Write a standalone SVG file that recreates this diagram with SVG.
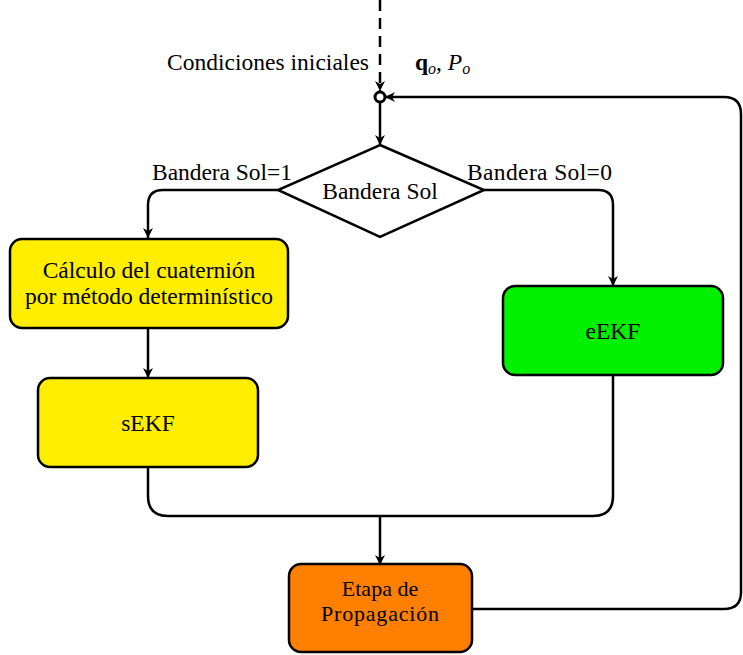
<svg xmlns="http://www.w3.org/2000/svg" width="743" height="655" viewBox="0 0 743 655">
<defs>
<marker id="arr" viewBox="0 0 10 10" refX="10" refY="5" markerWidth="10" markerHeight="10" markerUnits="userSpaceOnUse" orient="auto">
<path d="M0,0 L10,5 L0,10 L3,5 Z" fill="#000"/>
</marker>
</defs>
<style>
.box{stroke:#000;stroke-width:2.5}
.ln{fill:none;stroke:#000;stroke-width:2.5}
text{font-family:"Liberation Serif","Times New Roman",serif;font-size:23.5px;fill:#000}
.c{text-anchor:middle}
.s{font-size:22px}
</style>
<rect width="743" height="655" fill="#fff"/>
<g id="connectors">
<path class="ln" d="M380,0 V91" stroke-dasharray="11,7" marker-end="url(#arr)"/>
<circle cx="380" cy="97" r="5" fill="none" stroke="#000" stroke-width="3"/>
<path class="ln" d="M380,102 V145" marker-end="url(#arr)"/>
<path class="ln" d="M278,190 H163 Q148,190 148,205 V238" marker-end="url(#arr)"/>
<path class="ln" d="M484,190 H598 Q613,190 613,205 V286" marker-end="url(#arr)"/>
<path class="ln" d="M148,328 V378" marker-end="url(#arr)"/>
<path class="ln" d="M148,468 V496 Q148,516 168,516 H593 Q613,516 613,496 V376"/>
<path class="ln" d="M380,516 V565" marker-end="url(#arr)"/>
<path class="ln" d="M472,609 H724 Q741,609 741,592 V114 Q741,97 724,97 H385" marker-end="url(#arr)"/>
</g>
<g id="cond">
<text x="369" y="70" text-anchor="end" textLength="202">Condiciones iniciales</text>
<text x="415" y="70"><tspan font-weight="bold">q</tspan><tspan font-style="italic" font-size="16" dy="4">o</tspan><tspan dy="-4">, </tspan><tspan font-style="italic">P</tspan><tspan font-style="italic" font-size="16" dy="4">o</tspan></text>
</g>
<g id="diamond">
<polygon class="box" points="380,145 484,190 380,237 278,190" fill="#fff"/>
<text class="c" x="380" y="199">Bandera Sol</text>
<text x="152" y="180" textLength="140">Bandera Sol=1</text>
<text x="467" y="180" textLength="145">Bandera Sol=0</text>
</g>
<g id="calculo">
<rect class="box" x="10" y="239" width="278" height="89" rx="12" fill="#ffee00"/>
<text class="c" x="149" y="278">Cálculo del cuaternión</text>
<text class="c" x="149" y="304">por método determinístico</text>
</g>
<g id="sekf">
<rect class="box" x="38" y="378" width="220" height="89" rx="12" fill="#ffee00"/>
<text class="c" x="148" y="431">sEKF</text>
</g>
<g id="eekf">
<rect class="box" x="503" y="286" width="220" height="89" rx="12" fill="#00f000"/>
<text class="c" x="613" y="339">eEKF</text>
</g>
<g id="etapa">
<rect class="box" x="289" y="564" width="183" height="88" rx="12" fill="#ff8000"/>
<text class="c s" x="380" y="596">Etapa de</text>
<text class="c s" x="380" y="621" textLength="118">Propagación</text>
</g>
</svg>
